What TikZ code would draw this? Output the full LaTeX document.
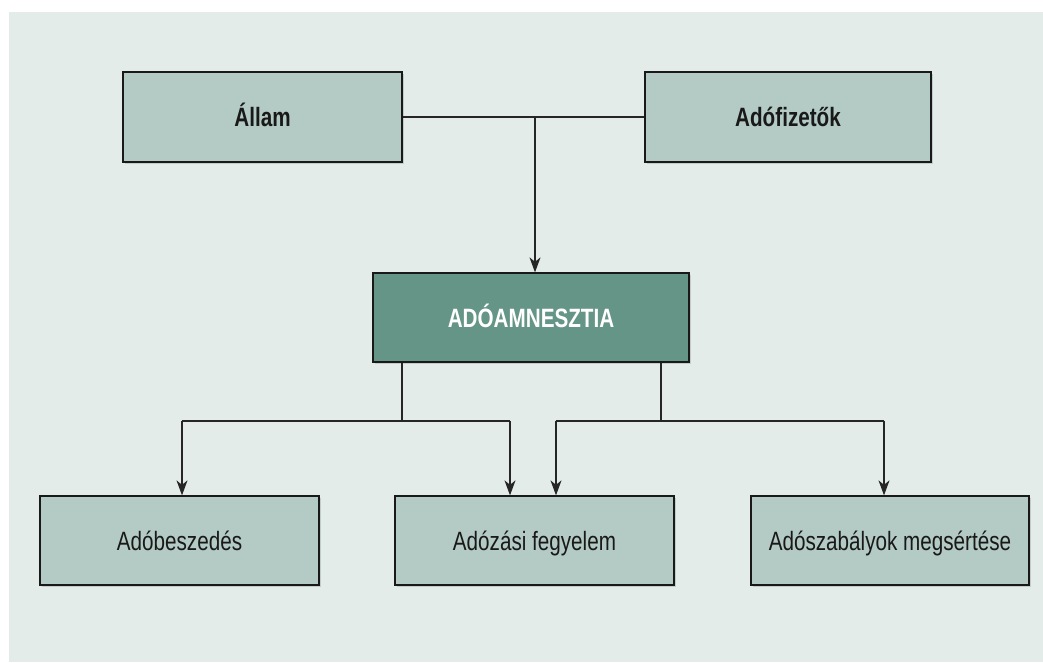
\documentclass[tikz,border=0pt]{standalone}
\usepackage{fontspec}
\setmainfont{Liberation Sans}[FakeStretch=0.78]
\usetikzlibrary{arrows.meta,shadows}
\definecolor{bgc}{HTML}{E3ECE9}
\definecolor{boxc}{HTML}{B3CBC4}
\definecolor{mainc}{HTML}{659586}
\definecolor{shc}{HTML}{C2CDCA}
\tikzset{
  box/.style={draw=black!90, line width=1.3pt, fill=boxc, inner sep=0pt,
    minimum height=89pt, font=\fontsize{26.5}{30}\selectfont, text=black!90,
    text height=19pt, text depth=0pt,
    drop shadow={shadow xshift=1.6pt, shadow yshift=-1.6pt, fill=shc, opacity=1}},
  topbox/.style={box, font=\fontsize{26.5}{30}\selectfont\bfseries},
  mainbox/.style={box, fill=mainc, text=white, font=\fontsize{26.5}{30}\selectfont\bfseries},
  conn/.style={line width=1.2pt, draw=black!85},
  arr/.style={conn, -{Stealth[length=15pt,width=11pt,inset=4.5pt]}}
}
\begin{document}
\begin{tikzpicture}[x=1pt,y=-1pt]
\useasboundingbox (0,0) rectangle (1043,662);
\fill[bgc] (9,12) rectangle (1043,662);
\node[topbox, minimum width=279pt, minimum height=90pt] (allam) at (262.5,117) {Állam};
\node[topbox, minimum width=286pt, minimum height=90pt] (adof) at (788,117) {Adófizetők};
\node[mainbox, minimum width=316pt] (amn) at (531,317.5) {ADÓAMNESZTIA};
\node[box, minimum width=279pt] (bes) at (179.5,540.5) {Adóbeszedés};
\node[box, minimum width=279pt] (fegy) at (534.5,540.5) {Adózási fegyelem};
\node[box, minimum width=278pt] (sert) at (890,540.5) {Adószabályok megsértése};
% top connector
\coordinate (j) at (535,117);
\draw[conn] (allam.east) -- (adof.west);
\draw[arr] (j) -- (j |- amn.north);
% lower connectors
\coordinate (l0) at (402,421);
\coordinate (l1) at (182,421);
\coordinate (l2) at (510,421);
\coordinate (r0) at (661,421);
\coordinate (r1) at (556,421);
\coordinate (r2) at (884,421);
\draw[conn] (l0 |- amn.south) -- (l0);
\draw[conn] (l1) -- (l2);
\draw[arr] (l1) -- (l1 |- bes.north);
\draw[arr] (l2) -- (l2 |- fegy.north);
\draw[conn] (r0 |- amn.south) -- (r0);
\draw[conn] (r1) -- (r2);
\draw[arr] (r1) -- (r1 |- fegy.north);
\draw[arr] (r2) -- (r2 |- sert.north);
\end{tikzpicture}
\end{document}
